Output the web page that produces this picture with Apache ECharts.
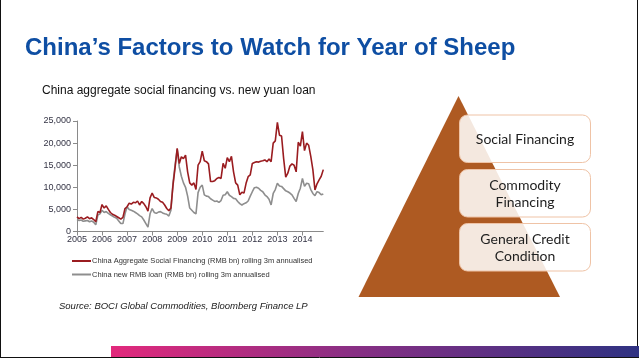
<!DOCTYPE html>
<html>
<head>
<meta charset="utf-8">
<script src="https://cdn.jsdelivr.net/npm/echarts@6/dist/echarts.min.js"></script>
<style>
html,body{margin:0;padding:0;background:#fff;}
#chart{width:639px;height:359px;}
</style>
</head>
<body>
<div id="chart"></div>
<script>
// ---- data (monthly, Jan 2005 - Nov 2014) ----
var startYear = 2005;
var socialFinancing = [
  // 2005
  3300, 2900, 3200, 2800, 3000, 3300, 2900, 3100, 2700, 2200, 4500, 4300,
  // 2006
  6100, 5300, 5800, 5000, 4300, 3900, 3700, 3400, 3100, 2800, 3200, 5200,
  // 2007
  5600, 6400, 6200, 6600, 6500, 6900, 6000, 6800, 6300, 5600, 4600, 7600,
  // 2008
  8700, 7700, 7600, 7300, 6800, 6600, 6000, 5200, 4700, 5300, 10500, 14500,
  // 2009
  18800, 15400, 16900, 16500, 17300, 13500, 11000, 10500, 11000, 9500, 15000, 15800,
  // 2010
  18200, 16000, 15800, 15300, 11300, 11300, 11500, 12000, 12200, 12000, 15400, 14300,
  // 2011
  16700, 15800, 17000, 13500, 11000, 10500, 8300, 8900, 8700, 10900, 12400, 12800,
  // 2012
  15400, 15600, 15800, 15700, 15900, 16000, 16200, 15800, 16400, 15800, 20000, 20500,
  // 2013
  24700, 21800, 21600, 16500, 12300, 13200, 14800, 15300, 15000, 13500, 20200, 19300,
  // 2014
  22600, 18300, 20000, 19500, 17000, 14000, 9400, 10800, 11700, 12500, 14000
];
var newLoan = [
  // 2005
  2700, 2500, 2600, 2300, 2400, 2500, 2200, 2400, 2100, 1500, 3700, 4000,
  // 2006
  4800, 4300, 4500, 4100, 3800, 3500, 3200, 3000, 2400, 1800, 1800, 4000,
  // 2007
  5600, 5000, 4800, 4600, 4300, 4000, 3600, 3300, 2600, 1800, 1000, 4000,
  // 2008
  5200, 4300, 4100, 4400, 4500, 4200, 4000, 3900, 3500, 4800, 11000, 15000,
  // 2009
  18600, 14600, 12500, 11000, 10000, 8000, 5300, 4800, 4300, 4000, 8800, 10000,
  // 2010
  10500, 8300, 8000, 7900, 7400, 7100, 6800, 6900, 6600, 7000, 8200, 8300,
  // 2011
  9000, 8200, 7900, 7500, 7400, 6800, 6300, 6000, 6300, 6500, 6900, 8000,
  // 2012
  9000, 9900, 10000, 9800, 9300, 9000, 8300, 7900, 7300, 6000, 8600, 9500,
  // 2013
  10900, 10300, 10200, 9700, 9200, 9000, 8700, 8300, 7500, 6800, 8600, 9800,
  // 2014
  12000, 10200, 10900, 10800, 9500, 8600, 8100, 9000, 8800, 8300, 8500
];
var seriesNames = [
  'China Aggregate Social Financing (RMB bn) rolling 3m annualised',
  'China new RMB loan (RMB bn) rolling 3m annualised'
];
var months = socialFinancing.map(function (v, i) {
  var y = startYear + Math.floor(i / 12);
  var m = (i % 12) + 1;
  return y + '-' + (m < 10 ? '0' + m : m);
});
var yMax = 25000, yStep = 5000;
var pyramidItems = ['Social Financing', 'Commodity\nFinancing', 'General Credit\nCondition'];
var titleText = 'China\u2019s Factors to Watch for Year of Sheep';
var subtitleText = 'China aggregate social financing vs. new yuan loan';
var sourceText = 'Source: BOCI Global Commodities, Bloomberg Finance LP';

var chart = echarts.init(document.getElementById('chart'), null, {renderer: 'canvas'});

var boxGraphics = [];
var boxTops = [115, 169.5, 223.5];
pyramidItems.forEach(function (t, i) {
  boxGraphics.push({
    type: 'rect', z: 10,
    shape: {x: 459.5, y: boxTops[i], width: 131, height: 47.5, r: 8},
    style: {fill: 'rgba(255,255,255,0.86)', stroke: '#efc3a6', lineWidth: 1}
  });
  boxGraphics.push({
    type: 'text', z: 11,
    style: {
      x: 525, y: boxTops[i] + 24, text: t,
      fill: '#1e1e1e', font: '14px Lato', align: 'center', verticalAlign: 'middle',
      lineHeight: 17
    }
  });
});

var option = {
  animation: false,
  backgroundColor: '#ffffff',
  textStyle: {fontFamily: '"Liberation Sans", Arial, sans-serif'},
  grid: {left: 77, top: 121, width: 246.3, height: 110.5, containLabel: false},
  legend: {
    orient: 'vertical', left: 67, top: 252,
    icon: 'rect', itemWidth: 19, itemHeight: 2, itemGap: 5.5,
    textStyle: {fontSize: 7.5, color: '#333', padding: [0, 0, 0, -4], fontFamily: '"Liberation Sans", Arial, sans-serif'},
    data: seriesNames
  },
  xAxis: {
    type: 'category', data: months, boundaryGap: false,
    axisLine: {lineStyle: {color: '#8a8a8a', width: 1}},
    axisTick: {show: true, length: 4, interval: function (i) { return i % 12 === 0; }, lineStyle: {color: '#8a8a8a'}},
    axisLabel: {
      interval: function (i) { return i % 12 === 0; },
      formatter: function (v) { return v.slice(0, 4); },
      fontSize: 9, color: '#333344', margin: 4
    },
    splitLine: {show: false}
  },
  yAxis: {
    type: 'value', min: 0, max: yMax, interval: yStep,
    axisLine: {show: true, lineStyle: {color: '#8a8a8a'}},
    axisTick: {show: true, length: 4, lineStyle: {color: '#8a8a8a'}},
    axisLabel: {
      fontSize: 9, color: '#333344', margin: 6,
      formatter: function (v) { return v.toLocaleString('en-US'); }
    },
    splitLine: {show: false}
  },
  series: [
    {name: seriesNames[0], type: 'line', data: socialFinancing, showSymbol: false, symbol: 'none',
     lineStyle: {color: '#9a1c20', width: 1.6}, itemStyle: {color: '#9a1c20'}, z: 3},
    {name: seriesNames[1], type: 'line', data: newLoan, showSymbol: false, symbol: 'none',
     lineStyle: {color: '#8e8e8e', width: 1.6}, itemStyle: {color: '#8e8e8e'}, z: 2}
  ],
  graphic: [
    // slide border lines
    {type: 'line', shape: {x1: 0.5, y1: 0, x2: 0.5, y2: 357.5}, style: {stroke: '#111', lineWidth: 1}},
    {type: 'line', shape: {x1: 637.5, y1: 0, x2: 637.5, y2: 357.5}, style: {stroke: '#111', lineWidth: 1}},
    {type: 'line', shape: {x1: 0, y1: 357.5, x2: 639, y2: 357.5}, style: {stroke: '#111', lineWidth: 1}},
    // bottom gradient bar
    {type: 'rect', z: 5, shape: {x: 111, y: 346, width: 528, height: 11},
     style: {fill: new echarts.graphic.LinearGradient(0, 0, 1, 0, [
       {offset: 0, color: '#e2297c'}, {offset: 0.45, color: '#8a2f84'}, {offset: 1, color: '#2f3282'}
     ])}},
    // title
    {type: 'text', style: {x: 25, y: 48, text: titleText, fill: '#0e4ea3',
      font: 'bold 24px "Liberation Sans", Arial, sans-serif', verticalAlign: 'middle'}},
    // subtitle
    {type: 'text', style: {x: 42, y: 91, text: subtitleText, fill: '#111',
      font: '12px "Liberation Sans", Arial, sans-serif', verticalAlign: 'middle'}},
    // source
    {type: 'text', style: {x: 59, y: 306, text: sourceText, fill: '#222',
      font: 'italic 9.5px "Liberation Sans", Arial, sans-serif', verticalAlign: 'middle'}},
    // pyramid
    {type: 'polygon', z: 4, shape: {points: [[458.5, 96], [358.5, 297], [560, 297]]},
     style: {fill: '#ae5a22'}}
  ].concat(boxGraphics)
};
chart.setOption(option);
</script>
</body>
</html>
